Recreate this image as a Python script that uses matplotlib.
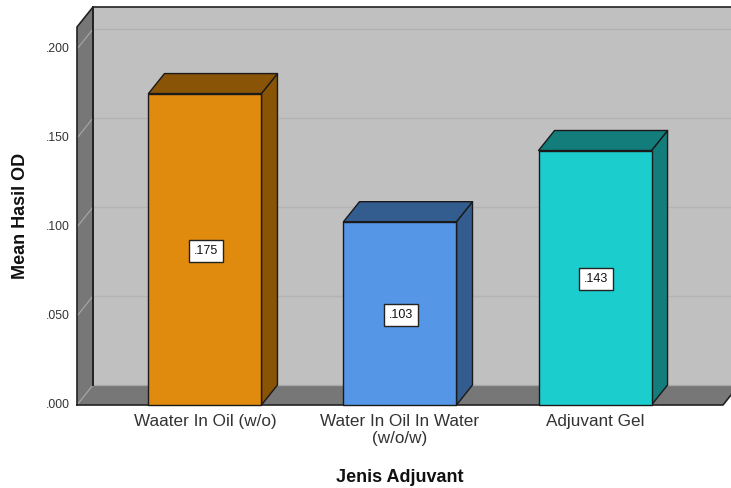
import matplotlib
matplotlib.use("Agg")
import matplotlib.pyplot as plt
from matplotlib.patches import Polygon

plt.rcParams['font.family'] = ['Liberation Sans', 'DejaVu Sans']

# Data
categories = ["Waater In Oil (w/o)", "Water In Oil In Water\n(w/o/w)", "Adjuvant Gel"]
means = [0.175, 0.103, 0.143]
value_labels = [".175", ".103", ".143"]
tick_values = [0.000, 0.050, 0.100, 0.150, 0.200]
tick_labels = [".000", ".050", ".100", ".150", ".200"]

face_colors = ["#E08A0E", "#5596E6", "#1CCDCD"]
shade_colors = ["#8A5407", "#335C8F", "#127D7B"]

W, H = 731, 488
fig = plt.figure(figsize=(W / 100, H / 100), dpi=100)

# Front plane of the 3D box in pixels
left_px, right_px, bottom_px, top_px = 77, 723, 405, 27
ax = fig.add_axes([left_px / W, (H - bottom_px) / H,
                   (right_px - left_px) / W, (bottom_px - top_px) / H])
xmin, xmax = -0.656, 2.656
ymin, ymax = 0.0, 0.2124
ax.set_xlim(xmin, xmax)
ax.set_ylim(ymin, ymax)
ax.axis("off")

# depth offsets in data units
px_x = (xmax - xmin) / (right_px - left_px)
px_y = (ymax - ymin) / (bottom_px - top_px)
ddx = 16 * px_x
ddy = 20 * px_y

wall = "#C0C0C0"
side = "#777777"
grid_c = "#B3B3B3"

# back wall
ax.add_patch(Polygon([(xmin + ddx, ddy), (xmax + ddx + 0.2, ddy),
                      (xmax + ddx + 0.2, ymax + ddy), (xmin + ddx, ymax + ddy)],
                     closed=True, facecolor=wall, edgecolor="none", clip_on=False, zorder=1))
# left wall
ax.add_patch(Polygon([(xmin, 0), (xmin + ddx, ddy), (xmin + ddx, ymax + ddy), (xmin, ymax)],
                     closed=True, facecolor=side, edgecolor="none", clip_on=False, zorder=1))
# floor
ax.add_patch(Polygon([(xmin, 0), (xmax, 0), (xmax + ddx, ddy), (xmin + ddx, ddy)],
                     closed=True, facecolor=side, edgecolor="none", clip_on=False, zorder=1))

# gridlines on back wall and left wall
for v in tick_values[1:]:
    ax.plot([xmin + ddx, xmax + ddx + 0.2], [v + ddy, v + ddy], color=grid_c, lw=1.0,
            clip_on=False, zorder=2, solid_capstyle="butt")
    ax.plot([xmin, xmin + ddx], [v, v + ddy], color="#A4A4A4", lw=0.9, clip_on=False, zorder=2)
ax.plot([xmin, xmin + ddx], [0, ddy], color="#A4A4A4", lw=0.9, clip_on=False, zorder=2)
ax.plot([xmin + ddx, xmax + ddx], [ddy, ddy], color="#A8A8A8", lw=0.9, clip_on=False, zorder=2)

# box outlines
ax.plot([xmin, xmin, xmin + ddx, xmax + ddx + 0.2], [0, ymax, ymax + ddy, ymax + ddy],
        color="#222222", lw=1.2, clip_on=False, zorder=3)
ax.plot([xmin + ddx, xmin + ddx], [ddy, ymax + ddy], color="#222222", lw=1.4, clip_on=False, zorder=3)
ax.plot([xmin, xmax, xmax + ddx], [0, 0, ddy], color="#222222", lw=1.2, clip_on=False, zorder=3)

# bars
bw = 113 * px_x
for i, (m, fc, sc, lab) in enumerate(zip(means, face_colors, shade_colors, value_labels)):
    x0, x1 = i - bw / 2, i + bw / 2
    kw = dict(closed=True, edgecolor="#1a1a1a", lw=1.0, joinstyle="round", zorder=5, clip_on=False)
    ax.add_patch(Polygon([(x1, 0), (x1 + ddx, ddy), (x1 + ddx, m + ddy), (x1, m)], facecolor=sc, **kw))
    ax.add_patch(Polygon([(x0, m), (x1, m), (x1 + ddx, m + ddy), (x0 + ddx, m + ddy)], facecolor=sc, **kw))
    ax.add_patch(Polygon([(x0, 0), (x1, 0), (x1, m), (x0, m)], facecolor=fc, **kw))
    ax.text(i + 0.005, m / 2, lab, ha="center", va="center_baseline", fontsize=9, color="#111111",
            zorder=7,
            bbox=dict(boxstyle="square,pad=0.4", facecolor="white", edgecolor="#222222", lw=1.0))
    ax.text(i, -0.0052, categories[i], ha="center", va="top", fontsize=12.3, color="#333333",
            linespacing=1.12)

# y tick labels
for v, t in zip(tick_values, tick_labels):
    ax.text(xmin - 7 * px_x, v, t, ha="right", va="center", fontsize=8.8, color="#333333")

fig.text(21 / W, 1 - 216 / H, "Mean Hasil OD", rotation=90, ha="center", va="center",
         fontsize=13, fontweight="bold", color="#111111")
fig.text(400 / W, 1 - 477 / H, "Jenis Adjuvant", ha="center", va="center",
         fontsize=13, fontweight="bold", color="#111111")

fig.savefig("out.png", dpi=100, facecolor="white")
